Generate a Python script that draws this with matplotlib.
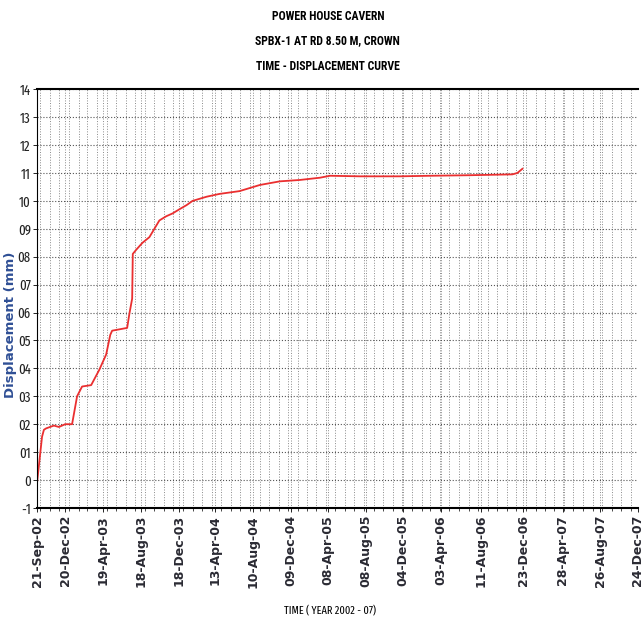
import numpy as np
import pandas as pd
import matplotlib
matplotlib.use("Agg")
import matplotlib.pyplot as plt
import matplotlib.dates as mdates
from matplotlib.ticker import FixedLocator

# readings (date, displacement)
dates = ["2002-09-21", "2002-10-07", "2002-10-13", "2002-10-20", "2002-11-14",
         "2002-11-30", "2002-12-20", "2003-01-11", "2003-01-27", "2003-02-12",
         "2003-03-13", "2003-04-08", "2003-04-30", "2003-05-13", "2003-05-19",
         "2003-07-06", "2003-07-13", "2003-07-22", "2003-07-24", "2003-08-04",
         "2003-08-24", "2003-09-15", "2003-10-01", "2003-10-17", "2003-11-08",
         "2003-11-28", "2003-12-20", "2004-01-12", "2004-01-31", "2004-03-16",
         "2004-04-26", "2004-06-29", "2004-09-02", "2004-11-05", "2005-01-08",
         "2005-03-13", "2005-04-14", "2005-07-19", "2005-11-24", "2006-02-28",
         "2006-07-07", "2006-11-18", "2006-12-04", "2006-12-20"]
disp = [-0.1, 1.55, 1.8, 1.85, 1.95,
        1.9, 2.0, 2.0, 3.0, 3.35,
        3.4, 3.95, 4.5, 5.2, 5.35,
        5.45, 5.95, 6.5, 8.1, 8.25,
        8.5, 8.7, 9.0, 9.3, 9.45,
        9.55, 9.7, 9.85, 10.0, 10.15,
        10.25, 10.35, 10.57, 10.7, 10.75,
        10.83, 10.9, 10.88, 10.88, 10.9,
        10.92, 10.95, 11.0, 11.15]

tick_dates = ["2002-09-21", "2002-12-20", "2003-04-19", "2003-08-18", "2003-12-18",
              "2004-04-13", "2004-08-10", "2004-12-09", "2005-04-08", "2005-08-08",
              "2005-12-04", "2006-04-03", "2006-08-11", "2006-12-23", "2007-04-28",
              "2007-08-26", "2007-12-24"]
tick_labels = ["21-Sep-02", "20-Dec-02", "19-Apr-03", "18-Aug-03", "18-Dec-03",
               "13-Apr-04", "10-Aug-04", "09-Dec-04", "08-Apr-05", "08-Aug-05",
               "04-Dec-05", "03-Apr-06", "11-Aug-06", "23-Dec-06", "28-Apr-07",
               "26-Aug-07", "24-Dec-07"]
y_ticks = list(range(-1, 15))
y_labels = ["-1", "0", "01", "02", "03", "04", "05", "06", "07", "08", "09",
            "10", "11", "12", "13", "14"]

cond = ["Roboto Condensed", "DejaVu Sans"]
xcond = ["Fira Sans Extra Condensed", "DejaVu Sans"]

x = mdates.date2num(pd.to_datetime(dates))
xt = mdates.date2num(pd.to_datetime(tick_dates))

fig = plt.figure(figsize=(6.44, 6.24), dpi=100)
ax = fig.add_axes([0.0575, 0.186, 0.933, 0.671])

ax.plot(x, disp, color="#ea2f30", lw=1.3)

ax.set_xlim(xt[0], xt[-1])
ax.set_ylim(-1, 14)

ax.xaxis.set_major_locator(FixedLocator(xt))
ax.xaxis.set_minor_locator(mdates.MonthLocator())
ax.set_xticks(xt)
ax.set_xticklabels(tick_labels, rotation=90, fontsize=9, fontweight="bold", color="#2a2a33")
ax.set_yticks(y_ticks)
ax.set_yticklabels(y_labels, family=xcond, fontsize=10, color="#222222")

ax.grid(which="both", axis="x", ls=":", lw=0.7, color="#8a8a8a")
ax.grid(which="major", axis="y", ls=":", lw=0.8, color="#555555")
ax.tick_params(axis="x", which="major", length=3, width=0.6, pad=2)
ax.tick_params(axis="y", which="major", length=3, width=0.6, pad=1.5)
ax.tick_params(axis="x", which="minor", length=2, width=0.5)

for side in ["top", "bottom"]:
    ax.spines[side].set_linewidth(1.5)
ax.spines["left"].set_linewidth(0.8)
ax.spines["right"].set_visible(False)

fig.text(11 / 644, 1 - 325 / 624, "Displacement (mm)", rotation=90, ha="center", va="center",
         fontsize=9.5, fontweight="bold", color="#2f4f95")

fig.text(0.509, 1 - 16 / 624, "POWER HOUSE CAVERN", ha="center", va="center",
         family=cond, fontsize=8.5, fontweight="bold")
fig.text(0.509, 1 - 41 / 624, "SPBX-1 AT RD 8.50 M, CROWN", ha="center", va="center",
         family=cond, fontsize=8.5, fontweight="bold")
fig.text(0.509, 1 - 66 / 624, "TIME - DISPLACEMENT CURVE", ha="center", va="center",
         family=cond, fontsize=8.5, fontweight="bold")
fig.text(0.513, 1 - 611 / 624, "TIME ( YEAR 2002 - 07)", ha="center", va="center",
         family=xcond, fontsize=8)

fig.savefig("out.png", dpi=100)
